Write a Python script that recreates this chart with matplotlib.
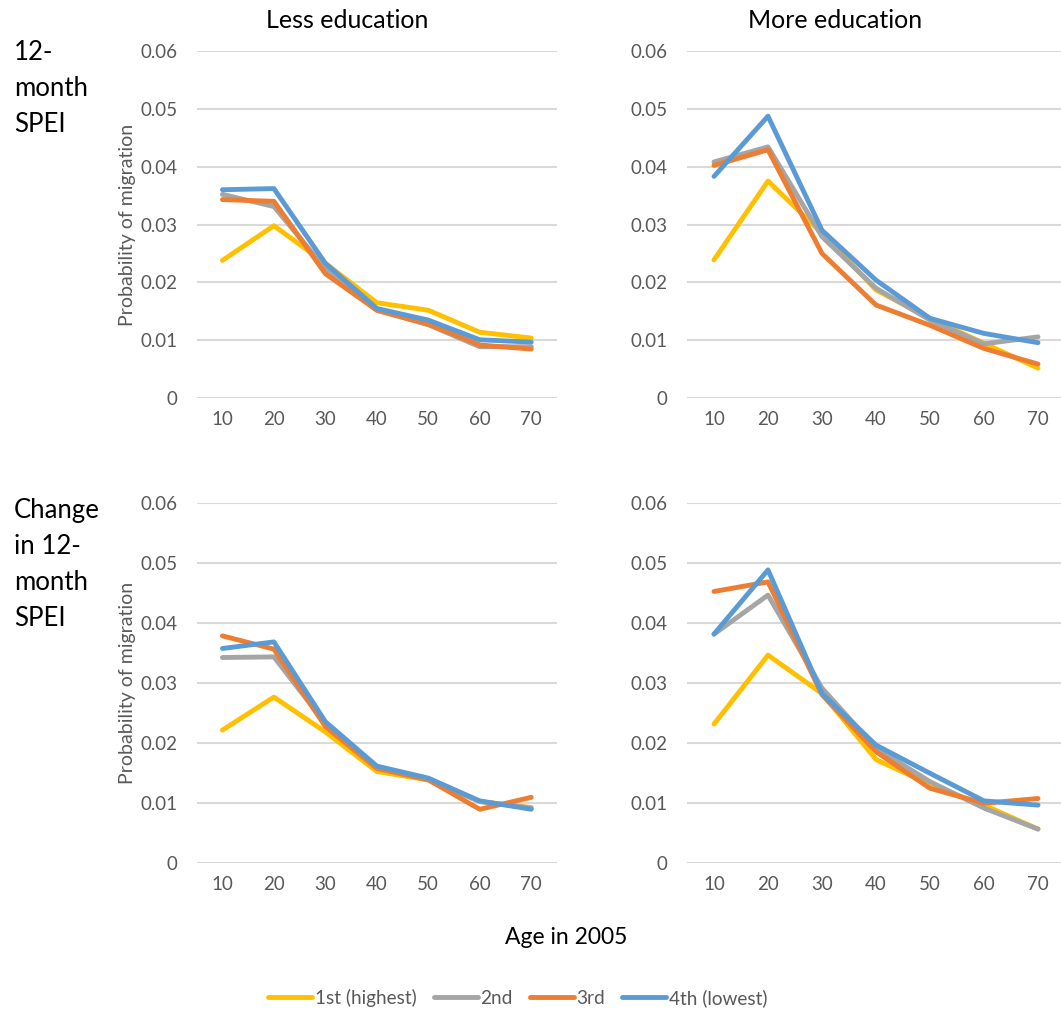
import matplotlib.pyplot as plt

plt.rcParams['font.family'] = ['Lato', 'DejaVu Sans']

ages = [10, 20, 30, 40, 50, 60, 70]
series_names = ['1st (highest)', '2nd', '3rd', '4th (lowest)']
colors = ['#FFC000', '#A5A5A5', '#ED7D31', '#5B9BD5']

# 12-month SPEI, less education
spei_less_1st = [0.0238, 0.0298, 0.0233, 0.0165, 0.0152, 0.0114, 0.0104]
spei_less_2nd = [0.0352, 0.0331, 0.0224, 0.0152, 0.0127, 0.0089, 0.0089]
spei_less_3rd = [0.0343, 0.0340, 0.0215, 0.0152, 0.0128, 0.0092, 0.0085]
spei_less_4th = [0.0360, 0.0362, 0.0233, 0.0155, 0.0135, 0.0101, 0.0097]

# 12-month SPEI, more education
spei_more_1st = [0.0239, 0.0375, 0.0285, 0.0187, 0.0138, 0.0095, 0.0052]
spei_more_2nd = [0.0408, 0.0434, 0.0279, 0.0190, 0.0135, 0.0094, 0.0106]
spei_more_3rd = [0.0402, 0.0429, 0.0250, 0.0161, 0.0126, 0.0086, 0.0059]
spei_more_4th = [0.0383, 0.0487, 0.0290, 0.0204, 0.0138, 0.0112, 0.0096]

# change in 12-month SPEI, less education
chg_less_1st = [0.0222, 0.0277, 0.0219, 0.0153, 0.0139, 0.0103, 0.0093]
chg_less_2nd = [0.0343, 0.0344, 0.0233, 0.0161, 0.0140, 0.0103, 0.0092]
chg_less_3rd = [0.0379, 0.0357, 0.0228, 0.0158, 0.0139, 0.0090, 0.0110]
chg_less_4th = [0.0358, 0.0369, 0.0236, 0.0162, 0.0142, 0.0104, 0.0090]

# change in 12-month SPEI, more education
chg_more_1st = [0.0232, 0.0347, 0.0283, 0.0173, 0.0131, 0.0097, 0.0057]
chg_more_2nd = [0.0382, 0.0447, 0.0292, 0.0192, 0.0136, 0.0092, 0.0057]
chg_more_3rd = [0.0453, 0.0469, 0.0281, 0.0186, 0.0125, 0.0100, 0.0108]
chg_more_4th = [0.0382, 0.0489, 0.0283, 0.0197, 0.0150, 0.0104, 0.0097]

panels = [
    [spei_less_1st, spei_less_2nd, spei_less_3rd, spei_less_4th],
    [spei_more_1st, spei_more_2nd, spei_more_3rd, spei_more_4th],
    [chg_less_1st, chg_less_2nd, chg_less_3rd, chg_less_4th],
    [chg_more_1st, chg_more_2nd, chg_more_3rd, chg_more_4th],
]

W, H = 1061, 1014
fig = plt.figure(figsize=(W / 100, H / 100), dpi=100)

# axes rectangles in pixels: left, top, right, bottom
boxes = [
    (196.7, 50.7, 557.0, 398.3),
    (687.0, 50.7, 1065.0, 398.3),
    (196.7, 503.3, 557.0, 863.3),
    (687.0, 503.3, 1065.0, 863.3),
]

tick_color = '#595959'
handles = []
for i, (data, box) in enumerate(zip(panels, boxes)):
    l, t, r, b = box
    ax = fig.add_axes([l / W, 1 - b / H, (r - l) / W, (b - t) / H])
    xs = range(len(ages))
    for vals, c, name in zip(data, colors, series_names):
        ln, = ax.plot(xs, vals, color=c, lw=3.5, solid_capstyle='round',
                      solid_joinstyle='round', label=name)
        if i == 0:
            handles.append(ln)
    ax.set_xlim(-0.5, 6.5)
    ax.set_ylim(0, 0.06)
    ax.set_yticks([0, 0.01, 0.02, 0.03, 0.04, 0.05, 0.06])
    ax.set_yticklabels(['0', '0.01', '0.02', '0.03', '0.04', '0.05', '0.06'])
    ax.set_xticks(list(xs))
    ax.set_xticklabels([str(a) for a in ages])
    ax.grid(axis='y', color='#D9D9D9', lw=1.5)
    ax.set_axisbelow(True)
    for s in ax.spines.values():
        s.set_visible(False)
    ax.tick_params(length=0, labelsize=13.5, colors=tick_color)
    ax.tick_params(axis='y', pad=14)
    ax.tick_params(axis='x', pad=9)
    ax.patch.set_alpha(0)
    if i % 2 == 0:
        ax.set_ylabel('Probability of migration', fontsize=14, color=tick_color,
                      labelpad=3)

fig.text(347 / W, 1 - 20 / H, 'Less education', ha='center', va='center', fontsize=18)
fig.text(835 / W, 1 - 20 / H, 'More education', ha='center', va='center', fontsize=18)
fig.text(14 / W, 1 - 40 / H, '12-\nmonth\nSPEI', ha='left', va='top',
         fontsize=18.5, linespacing=1.55)
fig.text(14 / W, 1 - 498 / H, 'Change\nin 12-\nmonth\nSPEI', ha='left', va='top',
         fontsize=18.5, linespacing=1.55)
fig.text(566 / W, 1 - 938 / H, 'Age in 2005', ha='center', va='center', fontsize=16.5)

fig.legend(handles=handles, labels=series_names, loc='center',
           bbox_to_anchor=(518 / W, 1 - 998 / H), ncol=4, frameon=False,
           fontsize=13.7, handlelength=2.3, handletextpad=0.15, columnspacing=0.9,
           labelcolor=tick_color)

fig.savefig('out.png', dpi=100)
